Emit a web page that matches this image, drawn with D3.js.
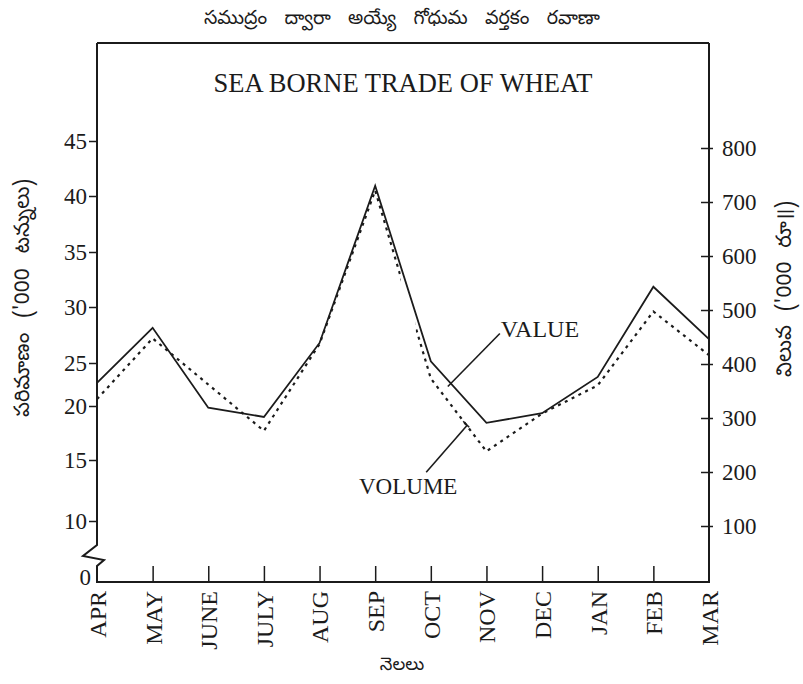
<!DOCTYPE html>
<html><head><meta charset="utf-8">
<script src="https://cdn.jsdelivr.net/npm/d3@7"></script>
<style>body{margin:0;background:#fff} svg{display:block}</style>
</head><body><svg id="c" width="803" height="684"></svg>
<script>
// ---- data ----
const months = ["APR","MAY","JUNE","JULY","AUG","SEP","OCT","NOV","DEC","JAN","FEB","MAR"];
const valueSeries  = [365, 467, 319, 302, 439, 730, 405, 291, 309, 376, 543, 446]; // '000 Rs (right axis, solid)
const volumeSeries = [20.8, 27.2, 22.5, 17.7, 26.7, 40.5, 23.2, 15.8, 19.3, 22.4, 29.6, 25.7]; // '000 tonnes (left axis, dotted)
const leftTicks  = [0, 10, 15, 20, 25, 30, 35, 40, 45];
const rightTicks = [100, 200, 300, 400, 500, 600, 700, 800];
const titleTe  = "సముద్రం ద్వారా అయ్యే గోధుమ వర్తకం రవాణా";
const chartTitle = "SEA BORNE TRADE OF WHEAT";
const leftLabel  = "పరిమాణం ('000 టన్నులు)";
const rightLabel = "విలువ ('000 రూ॥)";
const xLabel     = "నెలలు";
const valueName  = "VALUE";
const volumeName = "VOLUME";

// ---- layout ----
const W = 803, H = 684;
const L = 97, R = 709, T = 43, B = 582;
const ink = "#1b1b1b";
const serif = "'Liberation Serif','Times New Roman',serif";
const te = "'Noto Sans Telugu','Noto Sans','DejaVu Sans',sans-serif";

const svg = d3.select("#c");
const x = d3.scalePoint().domain(months).range([L, R]);
// hand-drawn, unevenly spaced left axis -> polylinear scale
const yL = d3.scaleLinear().domain(leftTicks).range([B, 521, 460, 406, 363, 307, 252, 196, 141]);
const yR = d3.scaleLinear().domain([0, 800]).range([580, 148]);

const g = svg.append("g");
g.append("line").attr("x1", L).attr("x2", R).attr("y1", T).attr("y2", T)
  .attr("stroke", ink).attr("stroke-width", 2);

// right axis
const ra = g.append("g").attr("transform", `translate(${R},0)`)
  .call(d3.axisRight(yR).tickValues(rightTicks).tickSize(4).tickPadding(9).tickFormat(d3.format("d")));
ra.select(".domain").remove();
ra.append("line").attr("x1", 0).attr("x2", 0).attr("y1", T).attr("y2", B).attr("stroke", ink).attr("stroke-width", 2);
ra.selectAll(".tick line").attr("x1", -8).attr("x2", 4).attr("stroke", ink).attr("stroke-width", 1.5);
ra.selectAll(".tick text").attr("font-family", serif).attr("font-size", 23).attr("fill", ink);

// left axis
const la = g.append("g").attr("transform", `translate(${L},0)`)
  .call(d3.axisLeft(yL).tickValues(leftTicks).tickSize(8).tickPadding(2).tickFormat(d3.format("d")));
la.select(".domain").remove();
la.selectAll(".tick line").attr("stroke", ink).attr("stroke-width", 1.5)
  .filter(d => d === 0).remove();
la.selectAll(".tick text").attr("font-family", serif).attr("font-size", 23).attr("fill", ink)
  .filter(d => d === 0).attr("dy", "0.1em").attr("x", -6);
// axis line with break between 0 and 10
const brk = yL(10) + 24;
la.append("path")
  .attr("d", `M0,${T} V${brk} L-14,${brk + 11} L7,${brk + 15} L0,${brk + 21} V${B}`)
  .attr("fill", "none").attr("stroke", ink).attr("stroke-width", 2).attr("stroke-linejoin", "miter");

// bottom axis
const ba = g.append("g").attr("transform", `translate(0,${B})`)
  .call(d3.axisBottom(x).tickSize(0).tickPadding(0));
ba.select(".domain").remove();
ba.append("line").attr("x1", L - 1).attr("x2", R + 1).attr("y1", 0).attr("y2", 0).attr("stroke", ink).attr("stroke-width", 2);
ba.selectAll(".tick").filter((d, i) => i > 0 && i < months.length - 1)
  .append("line").attr("y1", 0).attr("y2", -16).attr("stroke", ink).attr("stroke-width", 1.5);
ba.selectAll(".tick text")
  .attr("font-family", serif).attr("font-size", 24).attr("fill", ink)
  .attr("text-anchor", "end").attr("dy", "0.35em")
  .attr("transform", "translate(0,9) rotate(-90)").attr("y", 0).attr("x", 0);

// lines
const lineV = d3.line().x((d, i) => x(months[i])).y(d => yR(d));
const lineQ = d3.line().x((d, i) => x(months[i])).y(d => yL(d));

// small gap in the dotted line between SEP and OCT
const step = x.step();
const defs = svg.append("defs");
const mask = defs.append("mask").attr("id", "gap").attr("maskUnits", "userSpaceOnUse")
  .attr("x", 0).attr("y", 0).attr("width", W).attr("height", H);
mask.append("rect").attr("width", W).attr("height", H).attr("fill", "#fff");
mask.append("rect").attr("x", x("SEP") + step * 0.46).attr("width", step * 0.27)
  .attr("y", T).attr("height", B - T).attr("fill", "#000");

g.append("path").datum(volumeSeries).attr("d", lineQ)
  .attr("fill", "none").attr("stroke", ink).attr("stroke-width", 2.2)
  .attr("stroke-dasharray", "3,4.6").attr("mask", "url(#gap)");
g.append("path").datum(valueSeries).attr("d", lineV)
  .attr("fill", "none").attr("stroke", ink).attr("stroke-width", 1.8).attr("stroke-linejoin", "miter");

// annotations (anchored to points on the series)
const iO = months.indexOf("OCT"), iN = months.indexOf("NOV");
const onSeg = (scale, s, t) => [x(months[iO]) + t * (x(months[iN]) - x(months[iO])),
  scale(s[iO]) + t * (scale(s[iN]) - scale(s[iO]))];
const pv = onSeg(yR, valueSeries, 0.36);
g.append("line").attr("x1", pv[0] - 3).attr("y1", pv[1] + 3).attr("x2", pv[0] + 49).attr("y2", pv[1] - 50)
  .attr("stroke", ink).attr("stroke-width", 1.6);
g.append("text").attr("x", pv[0] + 50).attr("y", pv[1] - 50).attr("dy", "0.15em")
  .attr("font-family", serif).attr("font-size", 24).attr("fill", ink).text(valueName);
const pq = onSeg(yL, volumeSeries, 0.6);
g.append("line").attr("x1", pq[0] + 3).attr("y1", pq[1] + 3).attr("x2", pq[0] - 38).attr("y2", pq[1] + 50)
  .attr("stroke", ink).attr("stroke-width", 1.6);
g.append("line").attr("x1", pq[0] - 1).attr("y1", pq[1] - 1).attr("x2", pq[0] + 5).attr("y2", pq[1] + 5)
  .attr("stroke", ink).attr("stroke-width", 1.6);
g.append("text").attr("x", pq[0] - 56).attr("y", pq[1] + 72).attr("text-anchor", "middle")
  .attr("font-family", serif).attr("font-size", 23).attr("fill", ink).text(volumeName);

// titles
svg.append("text").attr("x", (L + R) / 2).attr("y", T + 49).attr("text-anchor", "middle")
  .attr("font-family", serif).attr("font-size", 26.5).attr("fill", ink).text(chartTitle);
svg.append("text").attr("x", (L + R) / 2 - 1).attr("y", 24).attr("text-anchor", "middle")
  .attr("font-family", te).attr("font-size", 19).attr("word-spacing", 12).attr("fill", ink).text(titleTe);
svg.append("text").attr("transform", `translate(22,298) rotate(-90)`)
  .attr("text-anchor", "middle").attr("dy", "0.35em")
  .attr("font-family", te).attr("font-size", 21).attr("word-spacing", 9).attr("fill", ink).text(leftLabel);
svg.append("text").attr("transform", `translate(784,289) rotate(-90)`)
  .attr("text-anchor", "middle").attr("dy", "0.35em")
  .attr("font-family", te).attr("font-size", 21).attr("word-spacing", 8).attr("fill", ink).text(rightLabel);
svg.append("text").attr("x", (L + R) / 2 - 1).attr("y", 670).attr("text-anchor", "middle")
  .attr("font-family", te).attr("font-size", 18).attr("fill", ink).text(xLabel);
</script></body></html>
